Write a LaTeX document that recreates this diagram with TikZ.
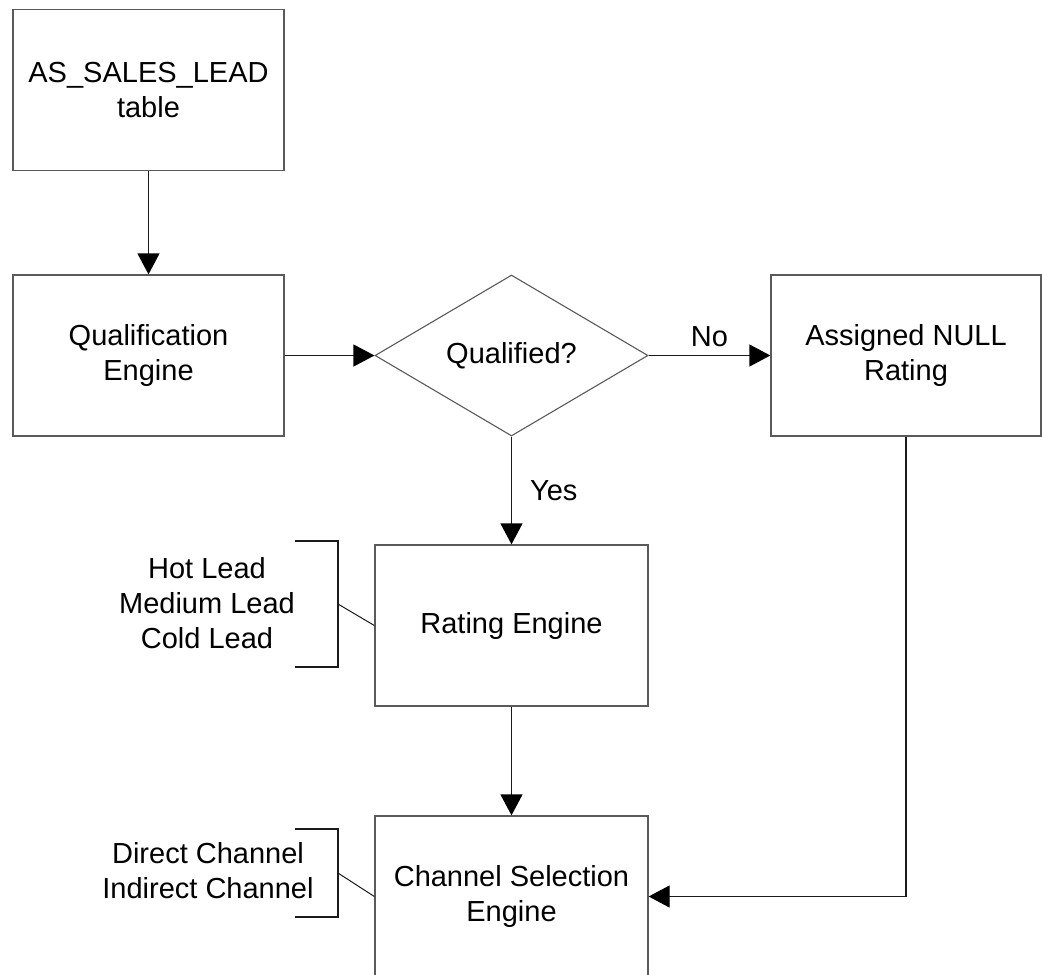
\documentclass[tikz,border=0pt]{standalone}
\usepackage{fontspec}
\setmainfont{Liberation Sans}
\usetikzlibrary{arrows.meta,shapes.geometric}
\definecolor{boxline}{HTML}{5A5A5A}
\definecolor{conline}{HTML}{1A1A1A}
\begin{document}
\begin{tikzpicture}[x=1pt,y=-1pt,
  every node/.style={font=\fontsize{29}{35}\selectfont, text=black},
  procbox/.style={draw=boxline, line width=1.3pt, rectangle, align=center, inner sep=0pt, minimum width=271pt, minimum height=161pt},
  decbox/.style={draw=boxline, line width=1.1pt, diamond, aspect=1.7, inner sep=0pt, minimum width=273pt, minimum height=161pt},
  flow/.style={draw=conline, line width=1.3pt, -{Triangle[length=21pt,width=22pt,fill=black,color=black]}},
  plain/.style={draw=conline, line width=1.2pt},
  note/.style={align=center, inner sep=0pt},
  lbl/.style={inner sep=0pt}
]
\useasboundingbox (0,0) rectangle (1042,975);
\fill[white] (0,0) rectangle (1042,975);

\node[procbox] (src) at (148.5,90) {AS\_SALES\_LEAD\\table};
\node[procbox] (qual) at (148.5,355.5) {Qualification\\Engine};
\node[decbox] (dec) at (511.5,355.5) {Qualified?};
\node[procbox, minimum width=270pt] (null) at (906,355.5) {Assigned NULL\\Rating};
\node[procbox, minimum width=273pt] (rate) at (511.5,625.5) {Rating Engine};
\node[procbox, minimum width=273pt] (chan) at (511.5,896.5) {Channel Selection\\Engine};

\draw[flow] (src.south) -- (qual.north);
\draw[flow] (qual.east) -- (dec.west);
\draw[flow] (dec.east) -- node[lbl, above=8pt] (nolbl) {No} (null.west);
\draw[flow] (dec.south) -- node[lbl, right=18pt, pos=0.5] (yeslbl) {Yes} (rate.north);
\draw[flow] (rate.south) -- (chan.north);
\draw[flow] (null.south) |- (chan.east);

% rating annotation
\node[note] (ratings) at (207,603) {Hot Lead\\Medium Lead\\Cold Lead};
\coordinate (b1a) at (295,541);
\coordinate (b1b) at (338,541);
\coordinate (b1c) at (338,667);
\coordinate (b1d) at (295,667);
\coordinate (b1m) at (338,604);
\draw[plain] (b1a) -- (b1b) -- (b1c) -- (b1d);
\draw[plain, line width=1pt] (b1m) -- (rate.west);

% channel annotation
\node[note] (channels) at (208,871) {Direct Channel\\Indirect Channel};
\coordinate (b2a) at (295,829);
\coordinate (b2b) at (338,829);
\coordinate (b2c) at (338,917);
\coordinate (b2d) at (295,917);
\coordinate (b2m) at (338,873);
\draw[plain] (b2a) -- (b2b) -- (b2c) -- (b2d);
\draw[plain, line width=1pt] (b2m) -- (chan.west);
\end{tikzpicture}
\end{document}
